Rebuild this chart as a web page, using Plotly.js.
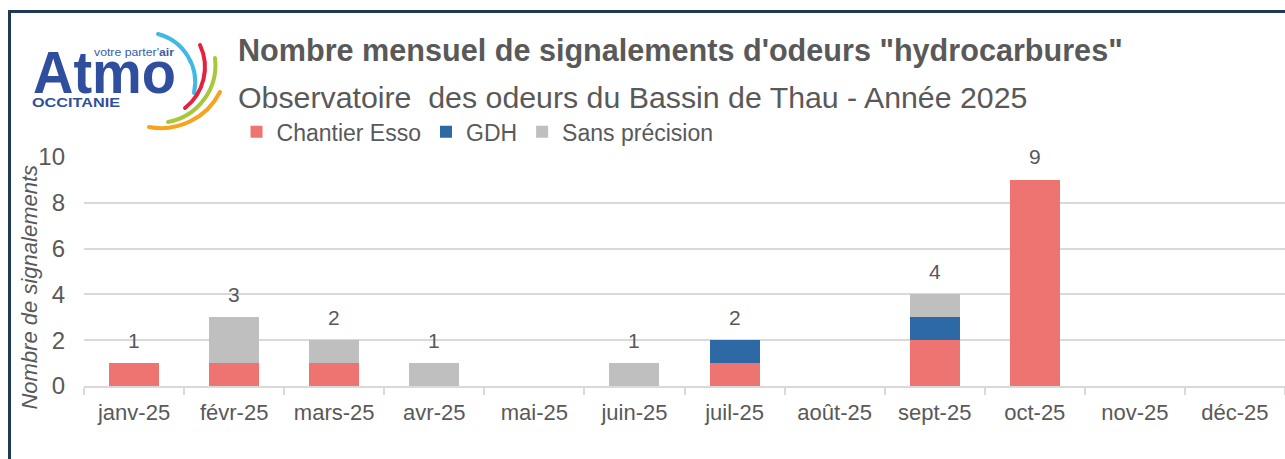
<!DOCTYPE html>
<html>
<head>
<meta charset="utf-8">
<script src="https://cdn.plot.ly/plotly-3.0.1.min.js"></script>
<style>
  html, body { margin: 0; padding: 0; background: #fff; overflow: hidden; }
  #frame { position: absolute; left: 8px; top: 10px; width: 1400px; height: 600px;
           border-top: 3px solid #1f3a58; border-left: 3px solid #1f3a58; }
  #logo { position: absolute; left: 0; top: 0; }
  #chart { position: absolute; left: 0; top: 0; width: 1285px; height: 459px; }
</style>
</head>
<body>
<div id="frame"></div>
<div id="chart"></div>
<svg id="logo" width="240" height="140" viewBox="0 0 240 140">
  <text x="33" y="93" font-family="Liberation Sans, Arial, sans-serif" font-weight="bold" font-size="60"
        fill="#2f4e9e" textLength="143" lengthAdjust="spacingAndGlyphs">Atmo</text>
  <text x="94" y="56" font-family="Liberation Sans, Arial, sans-serif" font-size="10"
        fill="#3b5cab" textLength="80" lengthAdjust="spacingAndGlyphs">votre parter'<tspan font-weight="bold">air</tspan></text>
  <text x="32" y="107" font-family="Liberation Sans, Arial, sans-serif" font-weight="bold" font-size="13.5"
        fill="#2f4e9e" textLength="88" lengthAdjust="spacingAndGlyphs">OCCITANIE</text>
  <g fill="none" stroke-width="4" stroke-linecap="round">
    <path d="M158,34 A50,50 0 0 1 194,93" stroke="#41b8e6"/>
    <path d="M200,45 A52,52 0 0 1 185,108" stroke="#e3223c"/>
    <path d="M215,58 A58,58 0 0 1 168,122" stroke="#a6c83a"/>
    <path d="M220,92 A66,66 0 0 1 149,127" stroke="#f6a320"/>
  </g>
</svg>
<script>
const months = ['janv-25', 'févr-25', 'mars-25', 'avr-25', 'mai-25', 'juin-25',
  'juil-25', 'août-25', 'sept-25', 'oct-25', 'nov-25', 'déc-25'];
const esso = [1, 1, 1, 0, 0, 0, 1, 0, 2, 9, 0, 0];
const gdh = [0, 0, 0, 0, 0, 0, 1, 0, 1, 0, 0, 0];
const sansPrecision = [0, 2, 1, 1, 0, 1, 0, 0, 1, 0, 0, 0];
const yTicks = [0, 2, 4, 6, 8, 10];

const grey = '#595959';
const sans = 'Liberation Sans, Arial, sans-serif';
const narrow = 'Liberation Sans Narrow, Arial Narrow, Liberation Sans, Arial, sans-serif';

const totals = months.map((_, i) => esso[i] + gdh[i] + sansPrecision[i]);

function barTrace(name, values, color) {
  return {
    type: 'bar', name, x: months, y: values,
    marker: { color, line: { width: 0 } },
    hoverinfo: 'x+y+name',
  };
}

const traces = [
  barTrace('Chantier Esso', esso, '#ee7471'),
  barTrace('GDH', gdh, '#2c69a5'),
  barTrace('Sans précision', sansPrecision, '#bfbfbf'),
];

const totalLabels = months
  .map((m, i) => ({ m, t: totals[i] }))
  .filter((d) => d.t > 0)
  .map((d) => ({
    x: d.m, y: d.t, text: String(d.t), showarrow: false,
    yanchor: 'middle', yshift: 23,
    font: { family: narrow, size: 21, color: grey },
  }));

const textNotes = [
  { text: '<b>Nombre mensuel de signalements d\'odeurs "hydrocarbures"</b>',
    xref: 'paper', yref: 'paper', x: 0, y: 1, xshift: 152, yshift: 107,
    xanchor: 'left', yanchor: 'middle', showarrow: false,
    font: { family: sans, size: 30.6, color: grey } },
  { text: 'Observatoire  des odeurs du Bassin de Thau - Année 2025',
    xref: 'paper', yref: 'paper', x: 0, y: 1, xshift: 152, yshift: 60,
    xanchor: 'left', yanchor: 'middle', showarrow: false,
    font: { family: sans, size: 30.3, color: grey } },
  { text: 'Nombre de signalements',
    xref: 'paper', yref: 'paper', x: 0, y: 0.43, xshift: -54,
    xanchor: 'center', yanchor: 'middle', textangle: -90, showarrow: false,
    font: { family: sans, size: 22, color: grey, style: 'italic' } },
];

const layout = {
  width: 1285, height: 459,
  margin: { l: 84, r: 0, t: 157, b: 73 },
  paper_bgcolor: 'rgba(0,0,0,0)',
  plot_bgcolor: 'rgba(0,0,0,0)',
  barmode: 'stack',
  bargap: 0.5,
  showlegend: true,
  legend: {
    orientation: 'h', x: 0.127, xanchor: 'left', y: 1.204, yanchor: 'top',
    font: { family: sans, size: 23, color: grey },
    traceorder: 'normal', bgcolor: 'rgba(0,0,0,0)',
  },
  xaxis: {
    type: 'category', fixedrange: true,
    showline: true, linecolor: '#d9d9d9', linewidth: 2,
    ticks: 'outside', tickson: 'boundaries', ticklen: 7, tickwidth: 2, tickcolor: '#d9d9d9',
    showgrid: false, ticklabelstandoff: 6,
    tickfont: { family: narrow, size: 22, color: grey },
  },
  yaxis: {
    range: [0, 10], tickvals: yTicks, fixedrange: true,
    showgrid: true, gridcolor: '#d9d9d9', gridwidth: 2,
    zeroline: false, showline: false, ticks: '',
    ticklabelstandoff: 18,
    tickfont: { family: narrow, size: 24, color: grey },
  },
  annotations: [...textNotes, ...totalLabels],
};

Plotly.newPlot('chart', traces, layout, { staticPlot: true, displayModeBar: false });
</script>
</body>
</html>
